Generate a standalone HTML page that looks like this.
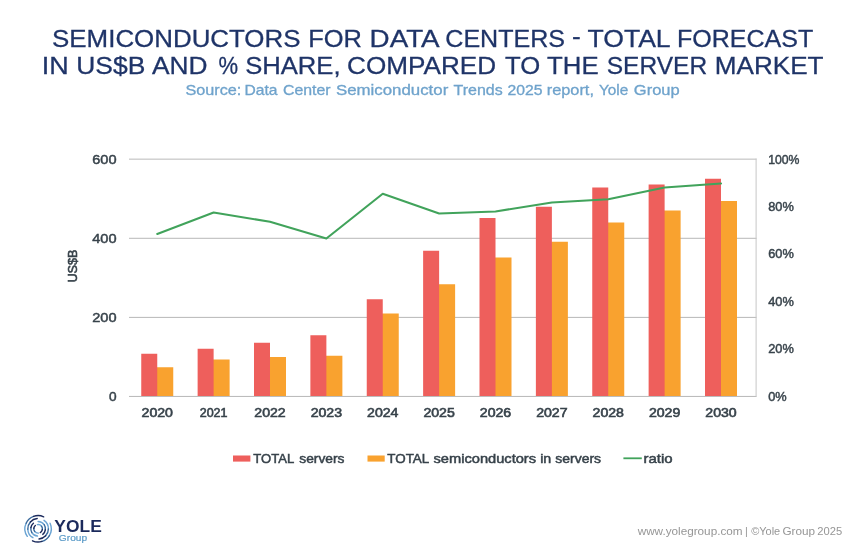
<!DOCTYPE html>
<html lang="en"><head><meta charset="utf-8"><title>Semiconductors for data centers</title>
<style>html,body{margin:0;padding:0;background:#fff}svg{display:block}text{font-family:"Liberation Sans", Arial, sans-serif}</style></head><body>
<svg width="865" height="559" viewBox="0 0 865 559">
<rect width="865" height="559" fill="#fff"/>
<text font-size="24.7" fill="#1f3468" stroke="#1f3468" stroke-width="0.3"><tspan x="52.09" y="46.7" textLength="248.42" lengthAdjust="spacingAndGlyphs">SEMICONDUCTORS</tspan> <tspan x="308.24" y="46.7" textLength="53.71" lengthAdjust="spacingAndGlyphs">FOR</tspan> <tspan x="369.64" y="46.7" textLength="68.46" lengthAdjust="spacingAndGlyphs">DATA</tspan> <tspan x="445.28" y="46.7" textLength="119.84" lengthAdjust="spacingAndGlyphs">CENTERS</tspan> <tspan x="572.09" y="43.5" textLength="8.75" lengthAdjust="spacingAndGlyphs">-</tspan> <tspan x="587.49" y="46.7" textLength="82.17" lengthAdjust="spacingAndGlyphs">TOTAL</tspan> <tspan x="677.02" y="46.7" textLength="136.29" lengthAdjust="spacingAndGlyphs">FORECAST</tspan></text>
<text font-size="24.7" fill="#1f3468" stroke="#1f3468" stroke-width="0.3"><tspan x="41.72" y="74.2" textLength="26.95" lengthAdjust="spacingAndGlyphs">IN</tspan> <tspan x="76.27" y="74.2" textLength="69.04" lengthAdjust="spacingAndGlyphs">US$B</tspan> <tspan x="151.9" y="74.2" textLength="55.52" lengthAdjust="spacingAndGlyphs">AND</tspan> <tspan x="218.56" y="74.2" textLength="19.58" lengthAdjust="spacingAndGlyphs">%</tspan> <tspan x="245.16" y="74.2" textLength="95.4" lengthAdjust="spacingAndGlyphs">SHARE,</tspan> <tspan x="347.08" y="74.2" textLength="148.93" lengthAdjust="spacingAndGlyphs">COMPARED</tspan> <tspan x="504.94" y="74.2" textLength="35.21" lengthAdjust="spacingAndGlyphs">TO</tspan> <tspan x="547.09" y="74.2" textLength="51.54" lengthAdjust="spacingAndGlyphs">THE</tspan> <tspan x="606.78" y="74.2" textLength="100.34" lengthAdjust="spacingAndGlyphs">SERVER</tspan> <tspan x="714.86" y="74.2" textLength="108.66" lengthAdjust="spacingAndGlyphs">MARKET</tspan></text>
<text font-size="14.1" fill="#6fa3cc" stroke="#6fa3cc" stroke-width="0.3"><tspan x="185.48" y="95.0" textLength="55.91" lengthAdjust="spacingAndGlyphs">Source:</tspan> <tspan x="244.48" y="95.0" textLength="32.97" lengthAdjust="spacingAndGlyphs">Data</tspan> <tspan x="282.94" y="95.0" textLength="47.62" lengthAdjust="spacingAndGlyphs">Center</tspan> <tspan x="335.9" y="95.0" textLength="112.4" lengthAdjust="spacingAndGlyphs">Semiconductor</tspan> <tspan x="453.55" y="95.0" textLength="49.16" lengthAdjust="spacingAndGlyphs">Trends</tspan> <tspan x="507.48" y="95.0" textLength="35.03" lengthAdjust="spacingAndGlyphs">2025</tspan> <tspan x="546.72" y="95.0" textLength="47.2" lengthAdjust="spacingAndGlyphs">report,</tspan> <tspan x="598.95" y="95.0" textLength="29.27" lengthAdjust="spacingAndGlyphs">Yole</tspan> <tspan x="633.89" y="95.0" textLength="45.82" lengthAdjust="spacingAndGlyphs">Group</tspan></text>
<text font-size="13.3" fill="#37424a" stroke="#37424a" stroke-width="0.5"><tspan x="253.3" y="463.0" textLength="40.45" lengthAdjust="spacingAndGlyphs">TOTAL</tspan> <tspan x="299.3" y="463.0" textLength="45.15" lengthAdjust="spacingAndGlyphs">servers</tspan> <tspan x="387.3" y="463.0" textLength="41.45" lengthAdjust="spacingAndGlyphs">TOTAL</tspan> <tspan x="433.5" y="463.0" textLength="102.55" lengthAdjust="spacingAndGlyphs">semiconductors</tspan> <tspan x="540.21" y="463.0" textLength="11.08" lengthAdjust="spacingAndGlyphs">in</tspan> <tspan x="555.3" y="463.0" textLength="45.75" lengthAdjust="spacingAndGlyphs">servers</tspan> <tspan x="643.43" y="463.0" textLength="29.13" lengthAdjust="spacingAndGlyphs">ratio</tspan></text>
<text font-size="16.6" fill="#1b2a5c" font-weight="bold"><tspan x="54.39" y="531.7" textLength="47.38" lengthAdjust="spacingAndGlyphs">YOLE</tspan></text>
<text font-size="9.2" fill="#5b9bc8" stroke="#5b9bc8" stroke-width="0.2"><tspan x="58.89" y="540.9" textLength="28.22" lengthAdjust="spacingAndGlyphs">Group</tspan></text>
<text font-size="10.7" fill="#969696"><tspan x="637.7" y="534.7" textLength="104.86" lengthAdjust="spacingAndGlyphs">www.yolegroup.com</tspan> <tspan x="745.0" y="534.7">|</tspan> <tspan x="751.15" y="534.7" textLength="29.07" lengthAdjust="spacingAndGlyphs">©Yole</tspan> <tspan x="782.48" y="534.7" textLength="32.64" lengthAdjust="spacingAndGlyphs">Group</tspan> <tspan x="817.28" y="534.7" textLength="24.84" lengthAdjust="spacingAndGlyphs">2025</tspan></text>
<line x1="129" y1="159.15" x2="756.5" y2="159.15" stroke="#b4b4b4" stroke-width="0.95"/>
<line x1="129" y1="238.3" x2="756.5" y2="238.3" stroke="#b4b4b4" stroke-width="0.95"/>
<line x1="129" y1="317.4" x2="756.5" y2="317.4" stroke="#b4b4b4" stroke-width="0.95"/>
<line x1="129" y1="396.45" x2="756.5" y2="396.45" stroke="#b4b4b4" stroke-width="0.95"/>
<line x1="756.1" y1="158.5" x2="756.1" y2="396.7" stroke="#c6c6c6" stroke-width="1"/>
<rect x="156.25" y="367.25" width="17" height="28.75" fill="#f9a22f"/>
<rect x="141.25" y="353.75" width="16" height="42.25" fill="#ee5f5c"/>
<rect x="212.62" y="359.5" width="17" height="36.50" fill="#f9a22f"/>
<rect x="197.62" y="348.75" width="16" height="47.25" fill="#ee5f5c"/>
<rect x="269.00" y="357" width="17" height="39.00" fill="#f9a22f"/>
<rect x="254.00" y="342.75" width="16" height="53.25" fill="#ee5f5c"/>
<rect x="325.38" y="355.75" width="17" height="40.25" fill="#f9a22f"/>
<rect x="310.38" y="335.25" width="16" height="60.75" fill="#ee5f5c"/>
<rect x="381.75" y="313.5" width="17" height="82.50" fill="#f9a22f"/>
<rect x="366.75" y="299.25" width="16" height="96.75" fill="#ee5f5c"/>
<rect x="438.12" y="284.25" width="17" height="111.75" fill="#f9a22f"/>
<rect x="423.12" y="250.75" width="16" height="145.25" fill="#ee5f5c"/>
<rect x="494.50" y="257.5" width="17" height="138.50" fill="#f9a22f"/>
<rect x="479.50" y="218" width="16" height="178.00" fill="#ee5f5c"/>
<rect x="550.88" y="241.75" width="17" height="154.25" fill="#f9a22f"/>
<rect x="535.88" y="206.75" width="16" height="189.25" fill="#ee5f5c"/>
<rect x="607.25" y="222.5" width="17" height="173.50" fill="#f9a22f"/>
<rect x="592.25" y="187.5" width="16" height="208.50" fill="#ee5f5c"/>
<rect x="663.62" y="210.5" width="17" height="185.50" fill="#f9a22f"/>
<rect x="648.62" y="184.5" width="16" height="211.50" fill="#ee5f5c"/>
<rect x="720.00" y="201" width="17" height="195.00" fill="#f9a22f"/>
<rect x="705.00" y="178.75" width="16" height="217.25" fill="#ee5f5c"/>
<polyline points="157.25,234 213.62,212.5 270.00,221.75 326.38,238.5 382.75,193.75 439.12,213.5 495.50,211.5 551.88,202.5 608.25,199.25 664.62,187.5 721.00,183.5" fill="none" stroke="#41a35b" stroke-width="2.1" stroke-linejoin="round" stroke-linecap="round"/>
<text x="116.5" y="163.7" font-size="12.7" fill="#37424a" text-anchor="end" textLength="24.3" lengthAdjust="spacingAndGlyphs" stroke="#37424a" stroke-width="0.45">600</text>
<text x="116.5" y="242.7" font-size="12.7" fill="#37424a" text-anchor="end" textLength="24.3" lengthAdjust="spacingAndGlyphs" stroke="#37424a" stroke-width="0.45">400</text>
<text x="116.5" y="321.7" font-size="12.7" fill="#37424a" text-anchor="end" textLength="24.3" lengthAdjust="spacingAndGlyphs" stroke="#37424a" stroke-width="0.45">200</text>
<text x="116.5" y="400.7" font-size="12.7" fill="#37424a" text-anchor="end" textLength="7.6" lengthAdjust="spacingAndGlyphs" stroke="#37424a" stroke-width="0.45">0</text>
<text x="768.2" y="163.55" font-size="12.7" fill="#37424a" textLength="31.3" lengthAdjust="spacingAndGlyphs" stroke="#37424a" stroke-width="0.45">100%</text>
<text x="768.2" y="210.95" font-size="12.7" fill="#37424a" textLength="25.6" lengthAdjust="spacingAndGlyphs" stroke="#37424a" stroke-width="0.45">80%</text>
<text x="768.2" y="258.35" font-size="12.7" fill="#37424a" textLength="25.6" lengthAdjust="spacingAndGlyphs" stroke="#37424a" stroke-width="0.45">60%</text>
<text x="768.2" y="305.75" font-size="12.7" fill="#37424a" textLength="25.6" lengthAdjust="spacingAndGlyphs" stroke="#37424a" stroke-width="0.45">40%</text>
<text x="768.2" y="353.15" font-size="12.7" fill="#37424a" textLength="25.6" lengthAdjust="spacingAndGlyphs" stroke="#37424a" stroke-width="0.45">20%</text>
<text x="768.2" y="400.55" font-size="12.7" fill="#37424a" textLength="18.5" lengthAdjust="spacingAndGlyphs" stroke="#37424a" stroke-width="0.45">0%</text>
<g transform="translate(76.9 282.5) rotate(-90)"><text x="0" y="0" font-size="13.2" fill="#37424a" textLength="33" lengthAdjust="spacingAndGlyphs" stroke="#37424a" stroke-width="0.6">US$B</text></g>
<text x="157.25" y="416.6" font-size="12.5" fill="#37424a" text-anchor="middle" textLength="31.4" lengthAdjust="spacingAndGlyphs" stroke="#37424a" stroke-width="0.6">2020</text>
<text x="213.62" y="416.6" font-size="12.5" fill="#37424a" text-anchor="middle" textLength="27.8" lengthAdjust="spacingAndGlyphs" stroke="#37424a" stroke-width="0.6">2021</text>
<text x="270.00" y="416.6" font-size="12.5" fill="#37424a" text-anchor="middle" textLength="31.4" lengthAdjust="spacingAndGlyphs" stroke="#37424a" stroke-width="0.6">2022</text>
<text x="326.38" y="416.6" font-size="12.5" fill="#37424a" text-anchor="middle" textLength="31.4" lengthAdjust="spacingAndGlyphs" stroke="#37424a" stroke-width="0.6">2023</text>
<text x="382.75" y="416.6" font-size="12.5" fill="#37424a" text-anchor="middle" textLength="31.4" lengthAdjust="spacingAndGlyphs" stroke="#37424a" stroke-width="0.6">2024</text>
<text x="439.12" y="416.6" font-size="12.5" fill="#37424a" text-anchor="middle" textLength="31.4" lengthAdjust="spacingAndGlyphs" stroke="#37424a" stroke-width="0.6">2025</text>
<text x="495.50" y="416.6" font-size="12.5" fill="#37424a" text-anchor="middle" textLength="31.4" lengthAdjust="spacingAndGlyphs" stroke="#37424a" stroke-width="0.6">2026</text>
<text x="551.88" y="416.6" font-size="12.5" fill="#37424a" text-anchor="middle" textLength="31.4" lengthAdjust="spacingAndGlyphs" stroke="#37424a" stroke-width="0.6">2027</text>
<text x="608.25" y="416.6" font-size="12.5" fill="#37424a" text-anchor="middle" textLength="31.4" lengthAdjust="spacingAndGlyphs" stroke="#37424a" stroke-width="0.6">2028</text>
<text x="664.62" y="416.6" font-size="12.5" fill="#37424a" text-anchor="middle" textLength="31.4" lengthAdjust="spacingAndGlyphs" stroke="#37424a" stroke-width="0.6">2029</text>
<text x="721.00" y="416.6" font-size="12.5" fill="#37424a" text-anchor="middle" textLength="31.4" lengthAdjust="spacingAndGlyphs" stroke="#37424a" stroke-width="0.6">2030</text>
<rect x="233" y="455.5" width="17.4" height="6.1" fill="#ee5f5c"/>
<rect x="367.5" y="455.5" width="17.2" height="6.1" fill="#f9a22f"/>
<line x1="623.4" y1="458.3" x2="641.8" y2="458.3" stroke="#41a35b" stroke-width="1.8"/>
<g>
<path d="M27.29 536.37A13.2 13.2 0 0 1 26.14 523.22" fill="none" stroke="#6ba4d3" stroke-width="1.4" stroke-linecap="round"/><path d="M26.14 523.22A13.2 13.2 0 0 1 33.59 516.40" fill="none" stroke="#3a6a9c" stroke-width="1.4" stroke-linecap="round"/><path d="M33.59 516.40A13.2 13.2 0 0 1 43.68 516.84" fill="none" stroke="#1b2a5c" stroke-width="1.4" stroke-linecap="round"/>
<path d="M50.06 523.22A13.2 13.2 0 0 1 49.41 535.60" fill="none" stroke="#6ba4d3" stroke-width="1.4" stroke-linecap="round"/><path d="M49.41 535.60A13.2 13.2 0 0 1 41.96 541.42" fill="none" stroke="#3a6a9c" stroke-width="1.4" stroke-linecap="round"/><path d="M41.96 541.42A13.2 13.2 0 0 1 32.52 540.76" fill="none" stroke="#1b2a5c" stroke-width="1.4" stroke-linecap="round"/>
<path d="M32.95 537.72A10.3 10.3 0 0 1 27.81 529.16" fill="none" stroke="#6ba4d3" stroke-width="1.4" stroke-linecap="round"/><path d="M27.81 529.16A10.3 10.3 0 0 1 30.39 521.98" fill="none" stroke="#3a6a9c" stroke-width="1.4" stroke-linecap="round"/><path d="M30.39 521.98A10.3 10.3 0 0 1 37.20 518.54" fill="none" stroke="#1b2a5c" stroke-width="1.4" stroke-linecap="round"/>
<path d="M44.01 520.36A10.3 10.3 0 0 1 48.40 528.98" fill="none" stroke="#6ba4d3" stroke-width="1.4" stroke-linecap="round"/><path d="M48.40 528.98A10.3 10.3 0 0 1 45.63 535.82" fill="none" stroke="#3a6a9c" stroke-width="1.4" stroke-linecap="round"/><path d="M45.63 535.82A10.3 10.3 0 0 1 39.00 539.06" fill="none" stroke="#1b2a5c" stroke-width="1.4" stroke-linecap="round"/>
<path d="M37.46 536.07A7.3 7.3 0 0 1 31.84 532.56" fill="none" stroke="#6ba4d3" stroke-width="1.4" stroke-linecap="round"/><path d="M31.84 532.56A7.3 7.3 0 0 1 30.90 527.60" fill="none" stroke="#3a6a9c" stroke-width="1.4" stroke-linecap="round"/><path d="M30.90 527.60A7.3 7.3 0 0 1 33.41 523.21" fill="none" stroke="#1b2a5c" stroke-width="1.4" stroke-linecap="round"/>
<path d="M38.10 521.50A7.3 7.3 0 0 1 44.15 524.72" fill="none" stroke="#6ba4d3" stroke-width="1.4" stroke-linecap="round"/><path d="M44.15 524.72A7.3 7.3 0 0 1 45.33 529.82" fill="none" stroke="#3a6a9c" stroke-width="1.4" stroke-linecap="round"/><path d="M45.33 529.82A7.3 7.3 0 0 1 42.79 534.39" fill="none" stroke="#1b2a5c" stroke-width="1.4" stroke-linecap="round"/>
<path d="M38.47 533.08A4.3 4.3 0 0 1 34.67 531.39" fill="none" stroke="#6ba4d3" stroke-width="1.4" stroke-linecap="round"/><path d="M34.67 531.39A4.3 4.3 0 0 1 33.83 528.31" fill="none" stroke="#3a6a9c" stroke-width="1.4" stroke-linecap="round"/><path d="M33.83 528.31A4.3 4.3 0 0 1 35.34 525.51" fill="none" stroke="#1b2a5c" stroke-width="1.4" stroke-linecap="round"/>
<path d="M37.35 524.57A4.3 4.3 0 0 1 41.58 526.27" fill="none" stroke="#6ba4d3" stroke-width="1.4" stroke-linecap="round"/><path d="M41.58 526.27A4.3 4.3 0 0 1 42.31 529.69" fill="none" stroke="#3a6a9c" stroke-width="1.4" stroke-linecap="round"/><path d="M42.31 529.69A4.3 4.3 0 0 1 40.25 532.52" fill="none" stroke="#1b2a5c" stroke-width="1.4" stroke-linecap="round"/>
</g>
</svg></body></html>
